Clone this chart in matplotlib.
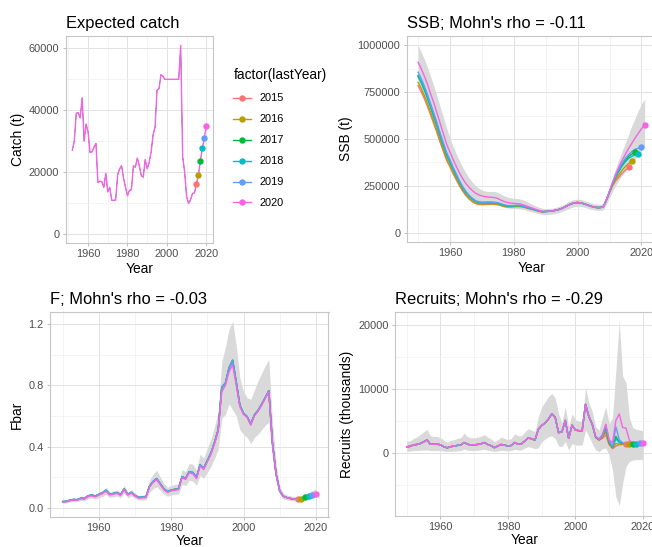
import matplotlib as mpl
mpl.use('Agg')
import matplotlib.pyplot as plt
from matplotlib.lines import Line2D
from matplotlib.ticker import FormatStrFormatter
import numpy as np

plt.rcParams['font.family'] = ['Liberation Sans', 'DejaVu Sans']

# RETRO PEELS AND THEIR COLOURS (GGPLOT HUE PALETTE)
lastYears = [2015, 2016, 2017, 2018, 2019, 2020]
runColors = ['#F8766D', '#B79F00', '#00BA38', '#00BFC4', '#619CFF', '#F564E3']

# EXPECTED CATCH (t) 1952-2020, SAME FOR EVERY PEEL UP TO ITS LAST YEAR
catchFirstYear = 1952
catchValues = [27000, 30000, 39000, 39200, 37500, 44000, 30000, 35500,
               33000, 26300, 26500, 28000, 29200, 16500, 17000, 16800, 15000, 19500,
               13500, 15000, 10800, 10800, 10900, 19000, 21000, 22000, 18000, 15000,
               12300, 14000, 14200, 22000, 21500, 24500, 22000, 18800, 18300, 24000,
               21000, 23000, 26500, 32000, 34500, 46500, 47000, 51500, 51000, 50000,
               50000, 50000, 50000, 50000, 50000, 50000, 50000, 61000, 25000, 20000,
               12000, 9800, 11000, 13000, 13200, 16200, 19000, 23500, 27800, 31000,
               35000]

# SSB (THOUSAND t), 1950-1989 PER PEEL
ssbEarly2015 = [785, 752, 714, 672, 625, 578, 530, 478, 431, 384,
                351, 314, 281, 249, 221, 198, 179, 165, 155, 150,
                149, 150, 151, 151, 150, 149, 145, 139, 137, 137,
                138, 139, 139, 136, 132, 127, 123, 118, 113, 111]
ssbEarly2016 = [803, 770, 731, 688, 640, 592, 543, 490, 442, 394,
                360, 322, 289, 256, 227, 203, 184, 170, 159, 154,
                152, 153, 154, 154, 153, 152, 147, 141, 139, 139,
                140, 141, 141, 138, 133, 128, 124, 119, 114, 111]
ssbEarly2017 = [839, 805, 765, 720, 670, 620, 570, 515, 465, 415,
                380, 340, 305, 270, 240, 215, 195, 180, 168, 162,
                160, 160, 161, 161, 160, 158, 152, 146, 143, 143,
                144, 145, 145, 141, 136, 131, 126, 121, 116, 112]
ssbEarly2018 = [833, 800, 760, 716, 667, 617, 567, 513, 463, 413,
                378, 339, 304, 269, 239, 214, 194, 179, 167, 161,
                159, 159, 160, 160, 159, 157, 151, 145, 142, 142,
                143, 144, 144, 140, 135, 130, 125, 120, 115, 112]
ssbEarly2019 = [857, 822, 782, 736, 686, 635, 584, 528, 477, 426,
                390, 349, 313, 277, 246, 220, 199, 184, 171, 165,
                163, 163, 164, 163, 162, 160, 154, 148, 145, 144,
                145, 146, 146, 142, 137, 132, 127, 121, 116, 112]
ssbEarly2020 = [910, 875, 835, 790, 738, 690, 635, 580, 525, 470,
                430, 390, 353, 318, 288, 262, 242, 225, 211, 202,
                196, 192, 190, 189, 187, 182, 173, 166, 161, 158,
                156, 155, 153, 148, 142, 136, 130, 124, 118, 114]
# 1990-2008, SHARED
ssbMid = [113, 114, 116, 119, 123, 129, 137, 146, 154, 159,
          161, 159, 154, 148, 142, 137, 134, 134, 137]
# 2009 TO LAST YEAR + 1
ssbTail2015 = [173, 215, 252, 278, 298, 318, 335, 348]
ssbTail2016 = [173, 217, 257, 287, 312, 335, 354, 370, 382]
ssbTail2017 = [174, 220, 264, 302, 334, 362, 387, 407, 420, 430]
ssbTail2018 = [174, 219, 263, 300, 330, 357, 379, 397, 408, 415, 419]
ssbTail2019 = [175, 221, 267, 309, 343, 373, 398, 418, 433, 445, 451, 455]
ssbTail2020 = [175, 222, 270, 315, 353, 388, 420, 450, 478, 505, 530, 555, 575]
# CONFIDENCE BAND OF THE 2020 RUN, 1950-2021
ssbUpper = [1000, 965, 925, 880, 830, 780, 725, 668, 612, 556,
            505, 460, 420, 382, 348, 318, 292, 270, 252, 238,
            228, 222, 220, 220, 220, 215, 205, 196, 190, 186,
            184, 182, 180, 174, 166, 158, 150, 142, 135, 130,
            128, 129, 131, 134, 139, 145, 154, 164, 172, 177,
            179, 177, 172, 166, 160, 155, 152, 152, 155, 192,
            245, 298, 348, 393, 438, 482, 527, 572, 612, 652,
            688, 712]
ssbLower = [790, 755, 715, 672, 627, 582, 534, 484, 437, 390,
            354, 318, 286, 256, 230, 208, 190, 176, 165, 158,
            154, 152, 152, 152, 151, 148, 142, 136, 132, 130,
            129, 129, 128, 124, 119, 114, 109, 104, 100, 97,
            96, 97, 99, 102, 106, 112, 119, 127, 134, 139,
            141, 140, 136, 131, 126, 122, 119, 119, 121, 150,
            188, 222, 255, 282, 307, 328, 348, 372, 393, 418,
            443, 462]

# FBAR, 1950-2009 (2020 RUN AND OLDER PEELS), 2010-2020 SHARED
fHist2020 = [0.037, 0.038, 0.045, 0.050, 0.048, 0.058, 0.056, 0.072, 0.078, 0.070,
             0.082, 0.092, 0.108, 0.083, 0.088, 0.094, 0.080, 0.118, 0.082, 0.095,
             0.075, 0.063, 0.064, 0.066, 0.135, 0.165, 0.183, 0.150, 0.118, 0.100,
             0.110, 0.115, 0.118, 0.195, 0.185, 0.228, 0.222, 0.190, 0.272, 0.250,
             0.300, 0.350, 0.420, 0.500, 0.760, 0.800, 0.890, 0.935, 0.800, 0.660,
             0.610, 0.590, 0.540, 0.600, 0.630, 0.670, 0.715, 0.760, 0.420, 0.220]
fHistOlder = [0.040, 0.041, 0.049, 0.054, 0.052, 0.062, 0.060, 0.077, 0.083, 0.075,
              0.087, 0.097, 0.114, 0.088, 0.093, 0.099, 0.085, 0.123, 0.087, 0.100,
              0.080, 0.067, 0.068, 0.070, 0.140, 0.171, 0.190, 0.156, 0.123, 0.105,
              0.115, 0.120, 0.123, 0.202, 0.192, 0.236, 0.230, 0.197, 0.280, 0.258,
              0.308, 0.358, 0.428, 0.510, 0.790, 0.815, 0.915, 0.965, 0.820, 0.670,
              0.618, 0.596, 0.548, 0.606, 0.636, 0.676, 0.720, 0.765, 0.425, 0.223]
fTail = [0.110, 0.075, 0.066, 0.060, 0.056, 0.055, 0.058, 0.068, 0.075, 0.085, 0.092]
fUpper = [0.045, 0.047, 0.055, 0.061, 0.060, 0.071, 0.070, 0.088, 0.096, 0.087,
          0.101, 0.113, 0.133, 0.103, 0.109, 0.116, 0.100, 0.146, 0.103, 0.118,
          0.094, 0.080, 0.082, 0.086, 0.180, 0.220, 0.245, 0.200, 0.158, 0.134,
          0.146, 0.152, 0.156, 0.250, 0.237, 0.290, 0.284, 0.245, 0.350, 0.325,
          0.390, 0.450, 0.530, 0.630, 0.960, 1.050, 1.170, 1.220, 1.060, 0.850,
          0.760, 0.720, 0.710, 0.770, 0.830, 0.880, 0.930, 0.970, 0.560, 0.290,
          0.145, 0.095, 0.083, 0.077, 0.072, 0.072, 0.076, 0.089, 0.098, 0.112,
          0.122]
fLower = [0.030, 0.031, 0.037, 0.041, 0.039, 0.047, 0.045, 0.058, 0.063, 0.056,
          0.066, 0.074, 0.087, 0.067, 0.071, 0.076, 0.064, 0.095, 0.066, 0.076,
          0.060, 0.050, 0.050, 0.051, 0.100, 0.124, 0.137, 0.113, 0.088, 0.075,
          0.083, 0.087, 0.089, 0.152, 0.144, 0.180, 0.174, 0.148, 0.210, 0.193,
          0.230, 0.270, 0.325, 0.380, 0.585, 0.610, 0.680, 0.640, 0.600, 0.510,
          0.480, 0.460, 0.420, 0.460, 0.480, 0.510, 0.540, 0.560, 0.320, 0.170,
          0.088, 0.058, 0.051, 0.046, 0.043, 0.042, 0.044, 0.052, 0.057, 0.064,
          0.068]

# RECRUITS (THOUSANDS), 1950-2004 SHARED, THEN PER PEEL FROM 2005
recHist = [1000, 1050, 1300, 1350, 1500, 1750, 2050, 1400, 1400, 1400,
           1300, 1000, 830, 1000, 1100, 1200, 1250, 1650, 1400, 1250,
           1300, 1350, 1450, 1650, 1350, 1150, 850, 1100, 1350, 1250,
           1100, 1200, 1650, 1400, 1450, 1900, 2350, 2250, 2000, 3700,
           4300, 4700, 5300, 6100, 5600, 3200, 3300, 5100, 2300, 4350,
           3600, 3500, 3500, 7600, 5700]
recTail2015 = [4400, 2400, 2000, 2300, 2800, 1300, 700, 1100, 1300, 1350, 1400]
recTail2016 = [4450, 2500, 2100, 2500, 3300, 1500, 800, 1500, 1400, 1400, 1400, 1400]
recTail2017 = [4500, 2500, 2100, 2600, 3800, 1700, 900, 2600, 1700, 1500, 1450, 1450, 1450]
recTail2018 = [4500, 2550, 2150, 2700, 4000, 1800, 950, 2200, 1700, 1500, 1500, 1500, 1500, 1500]
recTail2019 = [4500, 2600, 2150, 2900, 4400, 1900, 1000, 4100, 2100, 1600, 1550, 1550, 1550, 1550, 1550]
recTail2020 = [4500, 2600, 2200, 2700, 4500, 2100, 1600, 5100, 6100, 4000, 3900, 2000, 1600, 1550, 1550, 1600]
recUpper = [1900, 1900, 2300, 2500, 2900, 3300, 3700, 2700, 2600, 2600,
            2400, 2000, 1700, 2000, 2100, 2300, 2400, 3100, 2600, 2400,
            2400, 2500, 2600, 2900, 2500, 2200, 1800, 2100, 2500, 2300,
            2100, 2300, 3000, 2700, 2700, 3300, 3800, 3600, 3300, 5700,
            7200, 8000, 8800, 9300, 8600, 6200, 4700, 7200, 4100, 6100,
            5200, 5000, 4900, 10300, 7800, 6500, 4100, 3600, 5500, 7200,
            4600, 5500, 13000, 20600, 12000, 11000, 5500, 4000, 3700, 3600,
            3500]
recLower = [300, 300, 400, 400, 450, 470, 500, 400, 400, 400,
            400, 300, 250, 300, 300, 350, 400, 600, 450, 400,
            400, 450, 500, 600, 450, 350, 250, 350, 450, 400,
            350, 400, 600, 500, 500, 800, 1000, 900, 700, 800,
            1800, 2200, 2550, 2700, 2300, 1100, 1000, 1800, 500, 1500,
            1250, 1250, 1250, 3600, 2600, 1500, 500, 200, 700, 800,
            -300, -2700, -6800, -8200, -4700, -2100, -1300, -1100, -1000, -1000,
            -1000]

# BUILD THE SERIES OF EACH PEEL
ssbRuns = [ssbEarly2015 + ssbMid + ssbTail2015, ssbEarly2016 + ssbMid + ssbTail2016,
           ssbEarly2017 + ssbMid + ssbTail2017, ssbEarly2018 + ssbMid + ssbTail2018,
           ssbEarly2019 + ssbMid + ssbTail2019, ssbEarly2020 + ssbMid + ssbTail2020]
fRuns = []
for ly in lastYears:
    if ly == 2020:
        fRuns.append(fHist2020 + fTail)
    else:
        fRuns.append((fHistOlder + fTail)[:ly - 1950 + 1])
recRuns = [recHist + recTail2015, recHist + recTail2016, recHist + recTail2017,
           recHist + recTail2018, recHist + recTail2019, recHist + recTail2020]
catchRuns = [catchValues[:ly - catchFirstYear + 1] for ly in lastYears]

W, H = 652, 547
fig = plt.figure(figsize=(W / 100, H / 100), dpi=100)


def box(left, top, right, bottom):
    # PIXEL BOX TO FIGURE FRACTION
    return [left / W, 1 - bottom / H, (right - left) / W, (bottom - top) / H]


def styleAxes(ax, xlim, ylim, yMajor, yMinor, yFormat, title, ylabel, xpad=2):
    ax.set_xlim(xlim)
    ax.set_ylim(ylim)
    ax.set_xticks([1960, 1980, 2000, 2020])
    ax.set_xticks([1950, 1970, 1990, 2010], minor=True)
    ax.set_yticks(yMajor)
    ax.set_yticks(yMinor, minor=True)
    ax.yaxis.set_major_formatter(FormatStrFormatter(yFormat))
    ax.grid(which='major', color='#e2e2e2', linewidth=0.7)
    ax.grid(which='minor', color='#efefef', linewidth=0.45)
    ax.set_axisbelow(True)
    for s in ax.spines.values():
        s.set_color('#c6c6c6')
        s.set_linewidth(0.8)
    ax.tick_params(which='major', length=2.5, width=0.6, color='#b3b3b3',
                   labelcolor='#4d4d4d', labelsize=7.9, pad=2)
    ax.tick_params(which='minor', length=0)
    ax.set_title(title, loc='left', fontsize=11.9, pad=6)
    ax.set_xlabel('Year', fontsize=9.9, labelpad=xpad)
    ax.set_ylabel(ylabel, fontsize=9.9, labelpad=3)


def drawRuns(ax, firstYear, runs, scale=1.0, olderWidth=1.0):
    for values, color in zip(runs, runColors):
        years = np.arange(firstYear, firstYear + len(values))
        vals = np.array(values) * scale
        lw = 1.0 if color == runColors[-1] else olderWidth
        ax.plot(years, vals, color=color, linewidth=lw, zorder=3)
    for values, color in zip(runs, runColors):
        lastX = firstYear + len(values) - 1
        ax.plot([lastX], [values[-1] * scale], 'o', color=color, markersize=4.6,
                markeredgewidth=0, zorder=4)


# EXPECTED CATCH
ax1 = fig.add_axes(box(65.6, 36, 213, 243))
drawRuns(ax1, catchFirstYear, catchRuns, olderWidth=0.25)
styleAxes(ax1, (1948.6, 2023.4), (-3050, 64050), [0, 20000, 40000, 60000],
          [10000, 30000, 50000], '%d', 'Expected catch', 'Catch (t)')

# SSB
ax2 = fig.add_axes(box(406.7, 36, 656, 242))
ssbYears = np.arange(1950, 1950 + len(ssbUpper))
ax2.fill_between(ssbYears, np.array(ssbLower) * 1000, np.array(ssbUpper) * 1000,
                 color='#d9d9d9', linewidth=0, zorder=2)
drawRuns(ax2, 1950, ssbRuns, 1000)
styleAxes(ax2, (1946.45, 2024.55), (-50000, 1050000),
          [0, 250000, 500000, 750000, 1000000], [125000, 375000, 625000, 875000],
          '%d', "SSB; Mohn's rho = -0.11", 'SSB (t)')

# FBAR
ax3 = fig.add_axes(box(50, 312, 328.5, 517))
fYears = np.arange(1950, 1950 + len(fUpper))
ax3.fill_between(fYears, fLower, fUpper, color='#d9d9d9', linewidth=0, zorder=2)
drawRuns(ax3, 1950, fRuns)
styleAxes(ax3, (1946.5, 2023.5), (-0.061, 1.281), [0.0, 0.4, 0.8, 1.2],
          [0.2, 0.6, 1.0], '%.1f', "F; Mohn's rho = -0.03", 'Fbar', xpad=0.5)

# RECRUITS
ax4 = fig.add_axes(box(394.9, 312, 654.7, 516))
recYears = np.arange(1950, 1950 + len(recUpper))
ax4.fill_between(recYears, recLower, recUpper, color='#d9d9d9', linewidth=0, zorder=2)
drawRuns(ax4, 1950, recRuns)
styleAxes(ax4, (1946.5, 2023.5), (-9800, 22000), [0, 10000, 20000],
          [-5000, 5000, 15000], '%d', "Recruits; Mohn's rho = -0.29",
          'Recruits (thousands)', xpad=0.5)

# LEGEND
handles = [Line2D([0], [0], color=c, linewidth=1.0, marker='o', markersize=4.6,
                  markeredgewidth=0) for c in runColors]
fig.legend(handles, [str(y) for y in lastYears], title='factor(lastYear)',
           loc='upper left', bbox_to_anchor=(228 / W, 1 - 63 / H), frameon=False,
           fontsize=7.9, title_fontsize=9.9, handlelength=1.6, handletextpad=0.8,
           labelspacing=1.0, borderpad=0, alignment='left')

fig.savefig('out.png', dpi=100)
